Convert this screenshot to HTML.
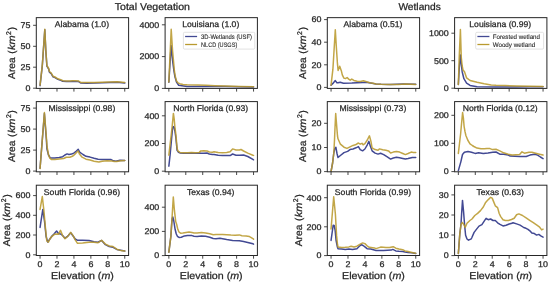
<!DOCTYPE html><html><head><meta charset="utf-8"><style>html,body{margin:0;padding:0;background:#fff;overflow:hidden;}svg{display:block;will-change:transform;}text{text-rendering:geometricPrecision;font-family:"Liberation Sans", sans-serif;fill:#262626;stroke:#262626;stroke-width:0.25px;}</style></head><body>
<svg width="550" height="284" viewBox="0 0 550 284">
<rect width="550" height="284" fill="#fff"/>
<text transform="translate(152.35,9.50) scale(1.070,1)" font-size="9.90" text-anchor="middle">Total Vegetation</text>
<text transform="translate(419.60,9.50) scale(1.035,1)" font-size="9.90" text-anchor="middle">Wetlands</text>
<clipPath id="c00"><rect x="36.30" y="17.65" width="92.30" height="70.75"/></clipPath>
<g clip-path="url(#c00)" fill="none" stroke-width="1.5" stroke-linejoin="round" stroke-linecap="round">
<polyline stroke="#424993" points="40.05,85.70 42.30,65.80 44.80,29.80 45.80,50.60 46.90,66.10 48.70,69.10 49.40,72.10 51.20,73.60 53.00,76.80 55.00,77.60 57.90,79.40 61.40,80.60 62.70,81.30 66.50,81.60 70.00,81.60 72.80,81.30 74.90,81.40 78.60,81.60 80.60,83.00 86.80,83.20 94.40,83.10 102.00,82.80 109.60,82.60 117.20,82.30 124.75,83.10"/>
<polyline stroke="#b99a2e" stroke-opacity="0.88" points="40.05,85.10 42.30,65.20 44.80,29.20 45.80,50.00 46.90,65.50 48.70,68.50 49.40,71.50 51.20,73.00 53.00,76.20 55.00,77.00 57.90,78.80 61.40,80.00 62.70,80.70 66.50,81.00 70.00,81.00 72.80,80.70 74.90,80.80 78.60,81.00 80.60,82.40 86.80,82.60 94.40,82.50 102.00,82.20 109.60,82.00 117.20,81.70 124.75,82.50"/>
</g>
<rect x="36.30" y="17.65" width="92.30" height="70.75" fill="none" stroke="#262626" stroke-width="1.0"/>
<line x1="33.10" y1="88.20" x2="36.30" y2="88.20" stroke="#333" stroke-width="0.9"/>
<text transform="translate(30.50,91.05) scale(1.075,1)" font-size="8.30" text-anchor="end">0</text>
<line x1="33.10" y1="67.20" x2="36.30" y2="67.20" stroke="#333" stroke-width="0.9"/>
<text transform="translate(30.50,70.05) scale(1.075,1)" font-size="8.30" text-anchor="end">25</text>
<line x1="33.10" y1="46.30" x2="36.30" y2="46.30" stroke="#333" stroke-width="0.9"/>
<text transform="translate(30.50,49.15) scale(1.075,1)" font-size="8.30" text-anchor="end">50</text>
<line x1="33.10" y1="25.30" x2="36.30" y2="25.30" stroke="#333" stroke-width="0.9"/>
<text transform="translate(30.50,28.15) scale(1.075,1)" font-size="8.30" text-anchor="end">75</text>
<line x1="40.05" y1="88.40" x2="40.05" y2="91.60" stroke="#333" stroke-width="0.9"/>
<line x1="56.99" y1="88.40" x2="56.99" y2="91.60" stroke="#333" stroke-width="0.9"/>
<line x1="73.93" y1="88.40" x2="73.93" y2="91.60" stroke="#333" stroke-width="0.9"/>
<line x1="90.87" y1="88.40" x2="90.87" y2="91.60" stroke="#333" stroke-width="0.9"/>
<line x1="107.81" y1="88.40" x2="107.81" y2="91.60" stroke="#333" stroke-width="0.9"/>
<line x1="124.75" y1="88.40" x2="124.75" y2="91.60" stroke="#333" stroke-width="0.9"/>
<text transform="translate(81.95,27.25) scale(1.040,1)" font-size="8.30" text-anchor="middle">Alabama (1.0)</text>
<text transform="translate(15.20,78.90) rotate(-90)" font-size="9.90"><tspan x="0" y="0" textLength="21.50" lengthAdjust="spacingAndGlyphs">Area</tspan><tspan x="25.15" y="0">(</tspan><tspan x="29.00" y="0" font-style="italic" textLength="14.60" lengthAdjust="spacingAndGlyphs">km</tspan><tspan x="44.00" y="-4.00" font-size="6.90">2</tspan><tspan x="48.70" y="0">)</tspan></text>
<clipPath id="c10"><rect x="165.10" y="17.65" width="92.30" height="70.75"/></clipPath>
<g clip-path="url(#c10)" fill="none" stroke-width="1.5" stroke-linejoin="round" stroke-linecap="round">
<polyline stroke="#424993" points="168.85,82.20 171.10,45.50 172.50,60.00 173.80,70.00 175.00,77.00 176.50,82.00 178.70,85.30 187.10,86.40 206.00,86.60 225.00,86.50 253.55,86.90"/>
<polyline stroke="#b99a2e" stroke-opacity="0.88" points="168.85,82.00 171.20,29.20 172.50,50.00 173.60,62.00 174.30,70.00 175.20,76.00 176.50,81.00 178.00,82.80 179.70,83.70 183.00,84.40 187.10,84.80 197.70,85.10 206.00,85.30 215.00,85.70 225.00,86.00 240.00,86.50 253.55,86.70"/>
</g>
<rect x="165.10" y="17.65" width="92.30" height="70.75" fill="none" stroke="#262626" stroke-width="1.0"/>
<line x1="161.90" y1="88.40" x2="165.10" y2="88.40" stroke="#333" stroke-width="0.9"/>
<text transform="translate(159.30,91.25) scale(1.075,1)" font-size="8.30" text-anchor="end">0</text>
<line x1="161.90" y1="56.60" x2="165.10" y2="56.60" stroke="#333" stroke-width="0.9"/>
<text transform="translate(159.30,59.45) scale(1.075,1)" font-size="8.30" text-anchor="end">2000</text>
<line x1="161.90" y1="24.80" x2="165.10" y2="24.80" stroke="#333" stroke-width="0.9"/>
<text transform="translate(159.30,27.65) scale(1.075,1)" font-size="8.30" text-anchor="end">4000</text>
<line x1="168.85" y1="88.40" x2="168.85" y2="91.60" stroke="#333" stroke-width="0.9"/>
<line x1="185.79" y1="88.40" x2="185.79" y2="91.60" stroke="#333" stroke-width="0.9"/>
<line x1="202.73" y1="88.40" x2="202.73" y2="91.60" stroke="#333" stroke-width="0.9"/>
<line x1="219.67" y1="88.40" x2="219.67" y2="91.60" stroke="#333" stroke-width="0.9"/>
<line x1="236.61" y1="88.40" x2="236.61" y2="91.60" stroke="#333" stroke-width="0.9"/>
<line x1="253.55" y1="88.40" x2="253.55" y2="91.60" stroke="#333" stroke-width="0.9"/>
<text transform="translate(210.75,27.25) scale(1.040,1)" font-size="8.30" text-anchor="middle">Louisiana (1.0)</text>
<clipPath id="c01"><rect x="36.30" y="101.60" width="92.30" height="70.20"/></clipPath>
<g clip-path="url(#c01)" fill="none" stroke-width="1.5" stroke-linejoin="round" stroke-linecap="round">
<polyline stroke="#424993" points="40.05,168.20 44.40,113.50 46.40,140.00 46.90,148.80 48.50,155.00 50.40,158.10 54.80,158.10 59.20,157.40 62.70,156.70 64.90,155.00 67.10,153.90 68.90,154.50 71.60,154.10 74.20,152.80 76.40,151.00 78.20,149.30 79.90,152.30 83.00,154.50 86.00,156.30 90.00,157.10 94.10,158.30 98.10,159.20 102.20,159.40 107.00,159.40 111.10,159.60 113.50,160.80 115.90,161.20 120.00,160.20 124.75,160.40"/>
<polyline stroke="#b99a2e" stroke-opacity="0.88" points="40.05,168.60 44.40,112.50 46.60,140.40 47.10,147.00 48.50,154.50 49.50,157.60 51.30,159.40 54.80,159.40 59.20,158.90 63.60,158.50 66.30,157.20 69.80,157.20 72.40,156.30 75.10,154.10 76.80,152.30 78.20,151.00 79.50,154.10 82.10,157.20 86.00,159.20 90.00,160.00 94.10,161.20 98.90,162.00 102.20,161.20 107.00,160.80 111.90,161.00 114.30,161.60 116.70,161.60 120.80,160.80 124.75,160.50"/>
</g>
<rect x="36.30" y="101.60" width="92.30" height="70.20" fill="none" stroke="#262626" stroke-width="1.0"/>
<line x1="33.10" y1="171.10" x2="36.30" y2="171.10" stroke="#333" stroke-width="0.9"/>
<text transform="translate(30.50,173.95) scale(1.075,1)" font-size="8.30" text-anchor="end">0</text>
<line x1="33.10" y1="150.10" x2="36.30" y2="150.10" stroke="#333" stroke-width="0.9"/>
<text transform="translate(30.50,152.95) scale(1.075,1)" font-size="8.30" text-anchor="end">25</text>
<line x1="33.10" y1="129.10" x2="36.30" y2="129.10" stroke="#333" stroke-width="0.9"/>
<text transform="translate(30.50,131.95) scale(1.075,1)" font-size="8.30" text-anchor="end">50</text>
<line x1="33.10" y1="108.10" x2="36.30" y2="108.10" stroke="#333" stroke-width="0.9"/>
<text transform="translate(30.50,110.95) scale(1.075,1)" font-size="8.30" text-anchor="end">75</text>
<line x1="40.05" y1="171.80" x2="40.05" y2="175.00" stroke="#333" stroke-width="0.9"/>
<line x1="56.99" y1="171.80" x2="56.99" y2="175.00" stroke="#333" stroke-width="0.9"/>
<line x1="73.93" y1="171.80" x2="73.93" y2="175.00" stroke="#333" stroke-width="0.9"/>
<line x1="90.87" y1="171.80" x2="90.87" y2="175.00" stroke="#333" stroke-width="0.9"/>
<line x1="107.81" y1="171.80" x2="107.81" y2="175.00" stroke="#333" stroke-width="0.9"/>
<line x1="124.75" y1="171.80" x2="124.75" y2="175.00" stroke="#333" stroke-width="0.9"/>
<text transform="translate(81.95,111.20) scale(1.040,1)" font-size="8.30" text-anchor="middle">Mississippi (0.98)</text>
<text transform="translate(15.20,162.10) rotate(-90)" font-size="9.90"><tspan x="0" y="0" textLength="21.50" lengthAdjust="spacingAndGlyphs">Area</tspan><tspan x="25.15" y="0">(</tspan><tspan x="29.00" y="0" font-style="italic" textLength="14.60" lengthAdjust="spacingAndGlyphs">km</tspan><tspan x="44.00" y="-4.00" font-size="6.90">2</tspan><tspan x="48.70" y="0">)</tspan></text>
<clipPath id="c11"><rect x="165.10" y="101.60" width="92.30" height="70.20"/></clipPath>
<g clip-path="url(#c11)" fill="none" stroke-width="1.5" stroke-linejoin="round" stroke-linecap="round">
<polyline stroke="#424993" points="168.85,166.20 170.10,154.80 171.20,143.00 172.30,131.00 172.80,127.50 173.40,126.60 174.20,127.50 174.90,131.00 175.90,138.00 177.10,150.40 178.50,152.30 179.90,152.90 183.80,153.30 187.60,153.30 191.50,153.10 195.40,153.30 199.30,153.00 200.80,153.20 203.90,153.30 207.00,153.00 209.30,154.00 212.40,154.60 214.00,154.40 218.20,155.20 222.50,155.60 226.70,155.60 230.10,155.60 232.60,154.00 236.00,155.20 239.40,155.20 243.60,155.00 247.80,156.50 252.90,159.40 253.55,159.80"/>
<polyline stroke="#b99a2e" stroke-opacity="0.88" points="168.85,155.20 170.00,145.00 171.20,135.00 172.30,125.00 173.40,113.40 174.20,119.00 174.90,127.00 175.90,134.60 177.10,148.00 177.80,150.90 179.90,152.40 183.80,152.80 187.60,152.80 191.50,152.60 195.40,152.80 199.30,152.40 200.80,150.90 203.90,150.70 207.00,150.90 209.30,152.00 212.40,152.20 214.00,151.80 218.20,152.50 222.50,152.80 226.70,152.50 230.10,151.80 232.60,148.90 236.00,150.00 239.40,150.00 241.00,149.50 243.60,151.00 247.80,153.10 252.90,155.20 253.55,155.40"/>
</g>
<rect x="165.10" y="101.60" width="92.30" height="70.20" fill="none" stroke="#262626" stroke-width="1.0"/>
<line x1="161.90" y1="171.20" x2="165.10" y2="171.20" stroke="#333" stroke-width="0.9"/>
<text transform="translate(159.30,174.05) scale(1.075,1)" font-size="8.30" text-anchor="end">0</text>
<line x1="161.90" y1="143.50" x2="165.10" y2="143.50" stroke="#333" stroke-width="0.9"/>
<text transform="translate(159.30,146.35) scale(1.075,1)" font-size="8.30" text-anchor="end">200</text>
<line x1="161.90" y1="115.80" x2="165.10" y2="115.80" stroke="#333" stroke-width="0.9"/>
<text transform="translate(159.30,118.65) scale(1.075,1)" font-size="8.30" text-anchor="end">400</text>
<line x1="168.85" y1="171.80" x2="168.85" y2="175.00" stroke="#333" stroke-width="0.9"/>
<line x1="185.79" y1="171.80" x2="185.79" y2="175.00" stroke="#333" stroke-width="0.9"/>
<line x1="202.73" y1="171.80" x2="202.73" y2="175.00" stroke="#333" stroke-width="0.9"/>
<line x1="219.67" y1="171.80" x2="219.67" y2="175.00" stroke="#333" stroke-width="0.9"/>
<line x1="236.61" y1="171.80" x2="236.61" y2="175.00" stroke="#333" stroke-width="0.9"/>
<line x1="253.55" y1="171.80" x2="253.55" y2="175.00" stroke="#333" stroke-width="0.9"/>
<text transform="translate(210.75,111.20) scale(1.040,1)" font-size="8.30" text-anchor="middle">North Florida (0.93)</text>
<clipPath id="c02"><rect x="36.30" y="185.20" width="92.30" height="70.30"/></clipPath>
<g clip-path="url(#c02)" fill="none" stroke-width="1.5" stroke-linejoin="round" stroke-linecap="round">
<polyline stroke="#424993" points="40.05,227.40 42.80,209.40 44.60,221.80 46.10,236.50 47.70,242.10 50.60,238.00 52.00,236.00 54.00,234.00 56.60,231.00 58.50,233.50 60.50,234.00 62.60,235.50 65.00,238.20 67.50,236.40 70.70,232.70 73.10,236.00 75.20,239.00 77.50,240.30 82.60,240.30 89.00,240.50 94.00,241.80 97.80,242.20 101.60,240.50 105.40,244.70 109.20,246.60 113.00,247.30 116.80,249.40 120.60,250.20 124.75,251.10"/>
<polyline stroke="#b99a2e" stroke-opacity="0.88" points="40.05,209.40 42.30,196.60 43.90,210.50 45.50,228.60 46.80,241.00 48.40,242.10 50.00,238.70 52.00,236.30 54.80,234.20 57.50,234.00 58.50,234.30 60.50,230.30 62.60,235.60 65.00,238.70 67.50,236.60 70.70,232.40 73.10,235.60 75.20,239.80 77.50,243.30 82.60,243.10 89.00,242.20 94.00,242.20 97.80,242.80 101.60,240.30 105.40,244.10 109.20,246.00 113.00,246.60 116.80,249.20 120.60,250.40 124.75,251.10"/>
</g>
<rect x="36.30" y="185.20" width="92.30" height="70.30" fill="none" stroke="#262626" stroke-width="1.0"/>
<line x1="33.10" y1="254.80" x2="36.30" y2="254.80" stroke="#333" stroke-width="0.9"/>
<text transform="translate(30.50,257.65) scale(1.075,1)" font-size="8.30" text-anchor="end">0</text>
<line x1="33.10" y1="235.00" x2="36.30" y2="235.00" stroke="#333" stroke-width="0.9"/>
<text transform="translate(30.50,237.85) scale(1.075,1)" font-size="8.30" text-anchor="end">200</text>
<line x1="33.10" y1="215.30" x2="36.30" y2="215.30" stroke="#333" stroke-width="0.9"/>
<text transform="translate(30.50,218.15) scale(1.075,1)" font-size="8.30" text-anchor="end">400</text>
<line x1="33.10" y1="195.60" x2="36.30" y2="195.60" stroke="#333" stroke-width="0.9"/>
<text transform="translate(30.50,198.45) scale(1.075,1)" font-size="8.30" text-anchor="end">600</text>
<line x1="40.05" y1="255.50" x2="40.05" y2="258.70" stroke="#333" stroke-width="0.9"/>
<text transform="translate(40.05,267.30) scale(1.075,1)" font-size="8.30" text-anchor="middle">0</text>
<line x1="56.99" y1="255.50" x2="56.99" y2="258.70" stroke="#333" stroke-width="0.9"/>
<text transform="translate(56.99,267.30) scale(1.075,1)" font-size="8.30" text-anchor="middle">2</text>
<line x1="73.93" y1="255.50" x2="73.93" y2="258.70" stroke="#333" stroke-width="0.9"/>
<text transform="translate(73.93,267.30) scale(1.075,1)" font-size="8.30" text-anchor="middle">4</text>
<line x1="90.87" y1="255.50" x2="90.87" y2="258.70" stroke="#333" stroke-width="0.9"/>
<text transform="translate(90.87,267.30) scale(1.075,1)" font-size="8.30" text-anchor="middle">6</text>
<line x1="107.81" y1="255.50" x2="107.81" y2="258.70" stroke="#333" stroke-width="0.9"/>
<text transform="translate(107.81,267.30) scale(1.075,1)" font-size="8.30" text-anchor="middle">8</text>
<line x1="124.75" y1="255.50" x2="124.75" y2="258.70" stroke="#333" stroke-width="0.9"/>
<text transform="translate(124.75,267.30) scale(1.075,1)" font-size="8.30" text-anchor="middle">10</text>
<text transform="translate(81.95,194.80) scale(1.040,1)" font-size="8.30" text-anchor="middle">South Florida (0.96)</text>
<text transform="translate(10.30,246.20) rotate(-90)" font-size="9.90"><tspan x="0" y="0" textLength="21.50" lengthAdjust="spacingAndGlyphs">Area</tspan><tspan x="25.15" y="0">(</tspan><tspan x="29.00" y="0" font-style="italic" textLength="14.60" lengthAdjust="spacingAndGlyphs">km</tspan><tspan x="44.00" y="-4.00" font-size="6.90">2</tspan><tspan x="48.70" y="0">)</tspan></text>
<text transform="translate(82.45,279.20) scale(1.080,1)" font-size="9.90" text-anchor="middle">Elevation (<tspan font-style="italic">m</tspan>)</text>
<clipPath id="c12"><rect x="165.10" y="185.20" width="92.30" height="70.30"/></clipPath>
<g clip-path="url(#c12)" fill="none" stroke-width="1.5" stroke-linejoin="round" stroke-linecap="round">
<polyline stroke="#424993" points="168.85,252.20 170.90,236.10 171.70,223.50 172.20,218.50 172.80,217.00 173.80,221.00 175.10,229.30 176.30,234.00 177.40,236.30 179.00,237.40 181.30,237.20 184.40,235.90 187.50,235.50 192.00,235.60 194.00,236.20 197.10,236.40 201.40,236.00 205.60,236.20 209.80,237.20 213.20,238.50 216.00,238.80 219.90,238.30 226.70,239.50 232.60,240.40 239.40,240.80 243.60,241.60 247.80,242.50 252.90,243.80 253.55,244.10"/>
<polyline stroke="#b99a2e" stroke-opacity="0.88" points="168.85,252.20 170.90,236.10 171.70,223.20 172.50,210.20 173.30,197.00 174.40,210.20 175.70,221.60 176.70,224.50 177.80,229.30 179.00,232.00 180.50,233.20 182.90,233.00 186.00,232.40 189.00,232.00 192.00,232.60 194.00,233.00 197.10,233.00 201.40,232.60 205.60,233.00 209.80,233.80 213.20,234.70 216.00,234.40 222.50,234.50 230.90,235.10 235.10,235.30 239.40,234.90 241.90,235.70 246.10,236.10 249.50,236.60 252.90,238.70 253.55,239.20"/>
</g>
<rect x="165.10" y="185.20" width="92.30" height="70.30" fill="none" stroke="#262626" stroke-width="1.0"/>
<line x1="161.90" y1="255.60" x2="165.10" y2="255.60" stroke="#333" stroke-width="0.9"/>
<text transform="translate(159.30,258.45) scale(1.075,1)" font-size="8.30" text-anchor="end">0</text>
<line x1="161.90" y1="231.40" x2="165.10" y2="231.40" stroke="#333" stroke-width="0.9"/>
<text transform="translate(159.30,234.25) scale(1.075,1)" font-size="8.30" text-anchor="end">200</text>
<line x1="161.90" y1="207.20" x2="165.10" y2="207.20" stroke="#333" stroke-width="0.9"/>
<text transform="translate(159.30,210.05) scale(1.075,1)" font-size="8.30" text-anchor="end">400</text>
<line x1="168.85" y1="255.50" x2="168.85" y2="258.70" stroke="#333" stroke-width="0.9"/>
<text transform="translate(168.85,267.30) scale(1.075,1)" font-size="8.30" text-anchor="middle">0</text>
<line x1="185.79" y1="255.50" x2="185.79" y2="258.70" stroke="#333" stroke-width="0.9"/>
<text transform="translate(185.79,267.30) scale(1.075,1)" font-size="8.30" text-anchor="middle">2</text>
<line x1="202.73" y1="255.50" x2="202.73" y2="258.70" stroke="#333" stroke-width="0.9"/>
<text transform="translate(202.73,267.30) scale(1.075,1)" font-size="8.30" text-anchor="middle">4</text>
<line x1="219.67" y1="255.50" x2="219.67" y2="258.70" stroke="#333" stroke-width="0.9"/>
<text transform="translate(219.67,267.30) scale(1.075,1)" font-size="8.30" text-anchor="middle">6</text>
<line x1="236.61" y1="255.50" x2="236.61" y2="258.70" stroke="#333" stroke-width="0.9"/>
<text transform="translate(236.61,267.30) scale(1.075,1)" font-size="8.30" text-anchor="middle">8</text>
<line x1="253.55" y1="255.50" x2="253.55" y2="258.70" stroke="#333" stroke-width="0.9"/>
<text transform="translate(253.55,267.30) scale(1.075,1)" font-size="8.30" text-anchor="middle">10</text>
<text transform="translate(210.75,194.80) scale(1.040,1)" font-size="8.30" text-anchor="middle">Texas (0.94)</text>
<text transform="translate(211.25,279.20) scale(1.080,1)" font-size="9.90" text-anchor="middle">Elevation (<tspan font-style="italic">m</tspan>)</text>
<clipPath id="c20"><rect x="327.30" y="17.65" width="92.30" height="70.75"/></clipPath>
<g clip-path="url(#c20)" fill="none" stroke-width="1.5" stroke-linejoin="round" stroke-linecap="round">
<polyline stroke="#424993" points="331.05,85.20 332.90,83.40 335.30,80.60 336.90,82.80 338.10,82.80 340.20,82.30 343.40,83.30 351.80,83.10 362.40,82.50 367.70,82.50 372.00,83.20 376.00,83.90 381.00,84.30 390.50,84.50 403.10,84.00 415.75,84.30"/>
<polyline stroke="#b99a2e" stroke-opacity="0.88" points="331.05,85.20 332.90,69.20 335.30,29.80 336.40,48.00 337.40,63.00 338.10,70.50 339.70,66.20 341.30,70.70 342.30,74.90 343.90,78.10 345.50,78.60 347.10,77.50 348.70,79.10 350.20,80.20 351.80,79.10 353.90,80.40 357.10,81.20 360.30,81.40 363.40,80.70 366.60,81.70 369.80,82.80 372.90,83.30 376.00,83.90 381.00,84.30 387.90,84.50 398.10,84.50 405.70,84.00 415.75,84.50"/>
</g>
<rect x="327.30" y="17.65" width="92.30" height="70.75" fill="none" stroke="#262626" stroke-width="1.0"/>
<line x1="324.10" y1="87.40" x2="327.30" y2="87.40" stroke="#333" stroke-width="0.9"/>
<text transform="translate(321.50,90.25) scale(1.075,1)" font-size="8.30" text-anchor="end">0</text>
<line x1="324.10" y1="64.80" x2="327.30" y2="64.80" stroke="#333" stroke-width="0.9"/>
<text transform="translate(321.50,67.65) scale(1.075,1)" font-size="8.30" text-anchor="end">20</text>
<line x1="324.10" y1="42.20" x2="327.30" y2="42.20" stroke="#333" stroke-width="0.9"/>
<text transform="translate(321.50,45.05) scale(1.075,1)" font-size="8.30" text-anchor="end">40</text>
<line x1="324.10" y1="19.60" x2="327.30" y2="19.60" stroke="#333" stroke-width="0.9"/>
<text transform="translate(321.50,22.45) scale(1.075,1)" font-size="8.30" text-anchor="end">60</text>
<line x1="331.05" y1="88.40" x2="331.05" y2="91.60" stroke="#333" stroke-width="0.9"/>
<line x1="347.99" y1="88.40" x2="347.99" y2="91.60" stroke="#333" stroke-width="0.9"/>
<line x1="364.93" y1="88.40" x2="364.93" y2="91.60" stroke="#333" stroke-width="0.9"/>
<line x1="381.87" y1="88.40" x2="381.87" y2="91.60" stroke="#333" stroke-width="0.9"/>
<line x1="398.81" y1="88.40" x2="398.81" y2="91.60" stroke="#333" stroke-width="0.9"/>
<line x1="415.75" y1="88.40" x2="415.75" y2="91.60" stroke="#333" stroke-width="0.9"/>
<text transform="translate(372.95,27.25) scale(1.040,1)" font-size="8.30" text-anchor="middle">Alabama (0.51)</text>
<text transform="translate(306.10,78.90) rotate(-90)" font-size="9.90"><tspan x="0" y="0" textLength="21.50" lengthAdjust="spacingAndGlyphs">Area</tspan><tspan x="25.15" y="0">(</tspan><tspan x="29.00" y="0" font-style="italic" textLength="14.60" lengthAdjust="spacingAndGlyphs">km</tspan><tspan x="44.00" y="-4.00" font-size="6.90">2</tspan><tspan x="48.70" y="0">)</tspan></text>
<clipPath id="c30"><rect x="454.60" y="17.65" width="92.30" height="70.75"/></clipPath>
<g clip-path="url(#c30)" fill="none" stroke-width="1.5" stroke-linejoin="round" stroke-linecap="round">
<polyline stroke="#424993" points="458.35,84.50 459.20,69.20 460.40,54.90 461.30,64.00 462.20,71.70 463.90,78.70 466.60,83.10 470.10,85.40 477.10,86.70 496.00,87.10 516.00,87.00 530.00,86.80 543.05,86.70"/>
<polyline stroke="#b99a2e" stroke-opacity="0.88" points="458.35,84.50 459.20,57.40 460.40,29.60 461.30,57.60 462.20,66.00 463.00,69.90 464.50,71.70 465.70,75.20 466.60,77.90 470.10,80.50 477.10,82.30 484.20,83.70 491.20,84.90 496.00,85.30 505.00,85.60 516.40,85.90 530.00,86.30 543.05,86.40"/>
</g>
<rect x="454.60" y="17.65" width="92.30" height="70.75" fill="none" stroke="#262626" stroke-width="1.0"/>
<line x1="451.40" y1="88.20" x2="454.60" y2="88.20" stroke="#333" stroke-width="0.9"/>
<text transform="translate(448.80,91.05) scale(1.075,1)" font-size="8.30" text-anchor="end">0</text>
<line x1="451.40" y1="60.70" x2="454.60" y2="60.70" stroke="#333" stroke-width="0.9"/>
<text transform="translate(448.80,63.55) scale(1.075,1)" font-size="8.30" text-anchor="end">500</text>
<line x1="451.40" y1="33.20" x2="454.60" y2="33.20" stroke="#333" stroke-width="0.9"/>
<text transform="translate(448.80,36.05) scale(1.075,1)" font-size="8.30" text-anchor="end">1000</text>
<line x1="458.35" y1="88.40" x2="458.35" y2="91.60" stroke="#333" stroke-width="0.9"/>
<line x1="475.29" y1="88.40" x2="475.29" y2="91.60" stroke="#333" stroke-width="0.9"/>
<line x1="492.23" y1="88.40" x2="492.23" y2="91.60" stroke="#333" stroke-width="0.9"/>
<line x1="509.17" y1="88.40" x2="509.17" y2="91.60" stroke="#333" stroke-width="0.9"/>
<line x1="526.11" y1="88.40" x2="526.11" y2="91.60" stroke="#333" stroke-width="0.9"/>
<line x1="543.05" y1="88.40" x2="543.05" y2="91.60" stroke="#333" stroke-width="0.9"/>
<text transform="translate(500.25,27.25) scale(1.040,1)" font-size="8.30" text-anchor="middle">Louisiana (0.99)</text>
<clipPath id="c21"><rect x="327.30" y="101.60" width="92.30" height="70.20"/></clipPath>
<g clip-path="url(#c21)" fill="none" stroke-width="1.5" stroke-linejoin="round" stroke-linecap="round">
<polyline stroke="#424993" points="331.05,171.50 332.60,163.00 333.80,153.00 334.80,148.50 335.90,147.40 337.00,153.50 338.00,157.50 340.40,155.50 344.00,152.60 347.60,151.40 350.00,149.60 353.00,149.00 356.00,147.80 358.40,146.60 360.20,149.60 362.60,150.80 364.90,149.00 367.30,144.80 368.90,141.40 370.30,146.00 372.10,150.80 375.10,153.10 378.00,154.10 380.60,153.20 383.70,154.60 386.90,156.70 390.60,159.10 393.30,158.00 396.40,157.20 399.60,157.70 402.80,158.50 405.40,159.10 408.10,158.50 412.30,157.40 415.75,157.40"/>
<polyline stroke="#b99a2e" stroke-opacity="0.88" points="331.05,171.50 332.60,163.00 333.80,153.00 334.50,140.00 335.00,128.00 335.70,113.60 336.90,128.60 337.50,136.00 338.00,138.80 340.40,144.20 344.00,147.20 347.00,148.40 350.00,146.90 353.00,145.40 355.40,144.80 358.40,143.00 360.20,144.20 362.00,143.30 363.10,144.80 364.90,143.60 367.30,140.00 369.40,135.80 370.90,141.20 372.10,147.80 375.10,149.60 378.00,150.20 379.50,148.90 382.70,149.80 385.90,150.30 388.50,150.90 390.60,153.00 393.30,152.10 396.40,151.40 399.60,152.10 402.80,153.50 405.40,154.60 408.10,153.50 411.20,152.10 413.30,152.40 415.75,152.40"/>
</g>
<rect x="327.30" y="101.60" width="92.30" height="70.20" fill="none" stroke="#262626" stroke-width="1.0"/>
<line x1="324.10" y1="171.60" x2="327.30" y2="171.60" stroke="#333" stroke-width="0.9"/>
<text transform="translate(321.50,174.45) scale(1.075,1)" font-size="8.30" text-anchor="end">0</text>
<line x1="324.10" y1="147.50" x2="327.30" y2="147.50" stroke="#333" stroke-width="0.9"/>
<text transform="translate(321.50,150.35) scale(1.075,1)" font-size="8.30" text-anchor="end">10</text>
<line x1="324.10" y1="123.30" x2="327.30" y2="123.30" stroke="#333" stroke-width="0.9"/>
<text transform="translate(321.50,126.15) scale(1.075,1)" font-size="8.30" text-anchor="end">20</text>
<line x1="331.05" y1="171.80" x2="331.05" y2="175.00" stroke="#333" stroke-width="0.9"/>
<line x1="347.99" y1="171.80" x2="347.99" y2="175.00" stroke="#333" stroke-width="0.9"/>
<line x1="364.93" y1="171.80" x2="364.93" y2="175.00" stroke="#333" stroke-width="0.9"/>
<line x1="381.87" y1="171.80" x2="381.87" y2="175.00" stroke="#333" stroke-width="0.9"/>
<line x1="398.81" y1="171.80" x2="398.81" y2="175.00" stroke="#333" stroke-width="0.9"/>
<line x1="415.75" y1="171.80" x2="415.75" y2="175.00" stroke="#333" stroke-width="0.9"/>
<text transform="translate(372.95,111.20) scale(1.040,1)" font-size="8.30" text-anchor="middle">Mississippi (0.73)</text>
<text transform="translate(306.10,162.10) rotate(-90)" font-size="9.90"><tspan x="0" y="0" textLength="21.50" lengthAdjust="spacingAndGlyphs">Area</tspan><tspan x="25.15" y="0">(</tspan><tspan x="29.00" y="0" font-style="italic" textLength="14.60" lengthAdjust="spacingAndGlyphs">km</tspan><tspan x="44.00" y="-4.00" font-size="6.90">2</tspan><tspan x="48.70" y="0">)</tspan></text>
<clipPath id="c31"><rect x="454.60" y="101.60" width="92.30" height="70.20"/></clipPath>
<g clip-path="url(#c31)" fill="none" stroke-width="1.5" stroke-linejoin="round" stroke-linecap="round">
<polyline stroke="#424993" points="458.35,170.60 460.90,161.60 462.50,154.50 464.40,152.20 468.00,151.50 471.50,152.20 475.10,153.40 478.60,152.70 483.30,153.40 488.00,152.90 492.70,152.20 496.00,152.00 499.80,154.20 503.60,154.20 508.30,155.10 510.20,156.10 519.60,156.50 526.20,156.50 530.00,155.10 534.80,154.20 537.60,155.10 540.40,157.00 543.05,158.60"/>
<polyline stroke="#b99a2e" stroke-opacity="0.88" points="458.35,153.40 459.50,143.50 460.60,134.00 461.60,123.00 462.60,112.60 463.40,118.00 464.10,126.30 465.00,131.50 465.90,135.50 467.70,140.00 470.00,143.90 472.30,145.50 473.90,146.50 477.00,148.10 481.00,148.80 484.10,148.80 487.00,148.60 490.00,148.60 492.50,149.60 496.00,149.30 499.80,150.90 503.60,152.80 508.30,154.20 512.10,155.10 519.60,154.60 522.00,151.80 524.40,153.20 529.10,152.30 531.90,152.30 535.70,153.20 539.50,154.20 543.05,155.10"/>
</g>
<rect x="454.60" y="101.60" width="92.30" height="70.20" fill="none" stroke="#262626" stroke-width="1.0"/>
<line x1="451.40" y1="171.60" x2="454.60" y2="171.60" stroke="#333" stroke-width="0.9"/>
<text transform="translate(448.80,174.45) scale(1.075,1)" font-size="8.30" text-anchor="end">0</text>
<line x1="451.40" y1="143.30" x2="454.60" y2="143.30" stroke="#333" stroke-width="0.9"/>
<text transform="translate(448.80,146.15) scale(1.075,1)" font-size="8.30" text-anchor="end">100</text>
<line x1="451.40" y1="115.30" x2="454.60" y2="115.30" stroke="#333" stroke-width="0.9"/>
<text transform="translate(448.80,118.15) scale(1.075,1)" font-size="8.30" text-anchor="end">200</text>
<line x1="458.35" y1="171.80" x2="458.35" y2="175.00" stroke="#333" stroke-width="0.9"/>
<line x1="475.29" y1="171.80" x2="475.29" y2="175.00" stroke="#333" stroke-width="0.9"/>
<line x1="492.23" y1="171.80" x2="492.23" y2="175.00" stroke="#333" stroke-width="0.9"/>
<line x1="509.17" y1="171.80" x2="509.17" y2="175.00" stroke="#333" stroke-width="0.9"/>
<line x1="526.11" y1="171.80" x2="526.11" y2="175.00" stroke="#333" stroke-width="0.9"/>
<line x1="543.05" y1="171.80" x2="543.05" y2="175.00" stroke="#333" stroke-width="0.9"/>
<text transform="translate(500.25,111.20) scale(1.040,1)" font-size="8.30" text-anchor="middle">North Florida (0.12)</text>
<clipPath id="c22"><rect x="327.30" y="185.20" width="92.30" height="70.30"/></clipPath>
<g clip-path="url(#c22)" fill="none" stroke-width="1.5" stroke-linejoin="round" stroke-linecap="round">
<polyline stroke="#424993" points="331.05,240.40 332.30,231.50 333.20,225.20 334.20,225.40 335.10,230.00 336.10,240.70 337.40,247.00 338.00,248.70 341.60,249.10 345.30,249.50 348.90,249.10 352.50,249.50 356.90,248.70 359.10,246.50 361.30,244.70 363.10,245.50 364.90,246.90 367.10,248.70 370.70,249.10 376.00,250.40 383.60,250.40 391.30,250.10 392.80,249.40 395.80,250.90 398.90,251.30 402.70,251.60 405.00,252.00 408.10,252.40 411.90,252.80 415.75,253.40"/>
<polyline stroke="#b99a2e" stroke-opacity="0.88" points="331.05,229.00 333.70,196.80 335.40,214.30 336.60,235.90 337.50,244.50 338.00,246.90 341.60,247.60 345.30,247.30 348.90,246.90 351.10,246.20 354.00,246.90 356.90,246.20 359.80,244.40 362.70,242.90 364.90,243.60 367.10,245.80 369.30,247.30 374.40,247.90 376.00,248.60 380.60,247.10 385.90,247.50 389.70,247.50 393.20,246.70 395.80,248.20 398.90,249.00 402.70,249.70 405.00,250.90 408.10,251.60 411.90,252.40 415.75,253.20"/>
</g>
<rect x="327.30" y="185.20" width="92.30" height="70.30" fill="none" stroke="#262626" stroke-width="1.0"/>
<line x1="324.10" y1="255.60" x2="327.30" y2="255.60" stroke="#333" stroke-width="0.9"/>
<text transform="translate(321.50,258.45) scale(1.075,1)" font-size="8.30" text-anchor="end">0</text>
<line x1="324.10" y1="226.80" x2="327.30" y2="226.80" stroke="#333" stroke-width="0.9"/>
<text transform="translate(321.50,229.65) scale(1.075,1)" font-size="8.30" text-anchor="end">200</text>
<line x1="324.10" y1="197.70" x2="327.30" y2="197.70" stroke="#333" stroke-width="0.9"/>
<text transform="translate(321.50,200.55) scale(1.075,1)" font-size="8.30" text-anchor="end">400</text>
<line x1="331.05" y1="255.50" x2="331.05" y2="258.70" stroke="#333" stroke-width="0.9"/>
<text transform="translate(331.05,267.30) scale(1.075,1)" font-size="8.30" text-anchor="middle">0</text>
<line x1="347.99" y1="255.50" x2="347.99" y2="258.70" stroke="#333" stroke-width="0.9"/>
<text transform="translate(347.99,267.30) scale(1.075,1)" font-size="8.30" text-anchor="middle">2</text>
<line x1="364.93" y1="255.50" x2="364.93" y2="258.70" stroke="#333" stroke-width="0.9"/>
<text transform="translate(364.93,267.30) scale(1.075,1)" font-size="8.30" text-anchor="middle">4</text>
<line x1="381.87" y1="255.50" x2="381.87" y2="258.70" stroke="#333" stroke-width="0.9"/>
<text transform="translate(381.87,267.30) scale(1.075,1)" font-size="8.30" text-anchor="middle">6</text>
<line x1="398.81" y1="255.50" x2="398.81" y2="258.70" stroke="#333" stroke-width="0.9"/>
<text transform="translate(398.81,267.30) scale(1.075,1)" font-size="8.30" text-anchor="middle">8</text>
<line x1="415.75" y1="255.50" x2="415.75" y2="258.70" stroke="#333" stroke-width="0.9"/>
<text transform="translate(415.75,267.30) scale(1.075,1)" font-size="8.30" text-anchor="middle">10</text>
<text transform="translate(372.95,194.80) scale(1.040,1)" font-size="8.30" text-anchor="middle">South Florida (0.99)</text>
<text transform="translate(302.00,246.20) rotate(-90)" font-size="9.90"><tspan x="0" y="0" textLength="21.50" lengthAdjust="spacingAndGlyphs">Area</tspan><tspan x="25.15" y="0">(</tspan><tspan x="29.00" y="0" font-style="italic" textLength="14.60" lengthAdjust="spacingAndGlyphs">km</tspan><tspan x="44.00" y="-4.00" font-size="6.90">2</tspan><tspan x="48.70" y="0">)</tspan></text>
<text transform="translate(373.45,279.20) scale(1.080,1)" font-size="9.90" text-anchor="middle">Elevation (<tspan font-style="italic">m</tspan>)</text>
<clipPath id="c32"><rect x="454.60" y="185.20" width="92.30" height="70.30"/></clipPath>
<g clip-path="url(#c32)" fill="none" stroke-width="1.5" stroke-linejoin="round" stroke-linecap="round">
<polyline stroke="#424993" points="458.35,253.50 459.80,234.00 461.00,224.00 461.60,214.00 462.50,200.40 463.60,212.00 464.60,225.00 465.60,235.30 467.00,239.00 468.50,240.20 471.30,238.80 472.00,237.30 474.10,232.40 476.20,229.60 479.00,226.10 481.90,224.60 484.70,220.40 486.10,218.30 488.20,219.70 490.60,219.00 493.00,220.50 495.30,220.50 497.60,222.80 500.00,224.40 503.00,225.90 506.10,225.20 509.20,224.00 512.00,223.30 513.00,222.70 516.60,223.90 520.10,225.10 523.70,227.50 526.00,228.30 528.00,229.40 530.50,231.40 531.90,233.10 534.40,233.60 536.60,235.10 538.80,234.40 540.80,235.90 543.05,237.10"/>
<polyline stroke="#b99a2e" stroke-opacity="0.88" points="458.35,253.50 459.80,234.00 461.00,224.50 462.30,222.50 463.50,224.00 465.20,227.50 467.00,223.30 469.90,220.50 472.00,219.00 474.80,215.50 477.60,213.40 480.50,210.60 483.30,207.00 485.40,202.80 486.50,201.50 488.30,199.60 490.60,197.30 492.20,198.10 493.70,201.90 495.30,205.80 497.60,207.60 499.20,213.50 500.70,216.60 503.00,219.70 505.30,220.50 508.40,220.50 511.50,219.50 514.20,218.20 516.60,214.80 518.90,213.90 522.50,215.50 526.10,217.90 529.70,220.30 533.30,222.70 536.90,225.10 539.30,226.80 541.70,229.90 543.05,229.20"/>
</g>
<rect x="454.60" y="185.20" width="92.30" height="70.30" fill="none" stroke="#262626" stroke-width="1.0"/>
<line x1="451.40" y1="255.60" x2="454.60" y2="255.60" stroke="#333" stroke-width="0.9"/>
<text transform="translate(448.80,258.45) scale(1.075,1)" font-size="8.30" text-anchor="end">0</text>
<line x1="451.40" y1="235.00" x2="454.60" y2="235.00" stroke="#333" stroke-width="0.9"/>
<text transform="translate(448.80,237.85) scale(1.075,1)" font-size="8.30" text-anchor="end">10</text>
<line x1="451.40" y1="215.00" x2="454.60" y2="215.00" stroke="#333" stroke-width="0.9"/>
<text transform="translate(448.80,217.85) scale(1.075,1)" font-size="8.30" text-anchor="end">20</text>
<line x1="451.40" y1="194.90" x2="454.60" y2="194.90" stroke="#333" stroke-width="0.9"/>
<text transform="translate(448.80,197.75) scale(1.075,1)" font-size="8.30" text-anchor="end">30</text>
<line x1="458.35" y1="255.50" x2="458.35" y2="258.70" stroke="#333" stroke-width="0.9"/>
<text transform="translate(458.35,267.30) scale(1.075,1)" font-size="8.30" text-anchor="middle">0</text>
<line x1="475.29" y1="255.50" x2="475.29" y2="258.70" stroke="#333" stroke-width="0.9"/>
<text transform="translate(475.29,267.30) scale(1.075,1)" font-size="8.30" text-anchor="middle">2</text>
<line x1="492.23" y1="255.50" x2="492.23" y2="258.70" stroke="#333" stroke-width="0.9"/>
<text transform="translate(492.23,267.30) scale(1.075,1)" font-size="8.30" text-anchor="middle">4</text>
<line x1="509.17" y1="255.50" x2="509.17" y2="258.70" stroke="#333" stroke-width="0.9"/>
<text transform="translate(509.17,267.30) scale(1.075,1)" font-size="8.30" text-anchor="middle">6</text>
<line x1="526.11" y1="255.50" x2="526.11" y2="258.70" stroke="#333" stroke-width="0.9"/>
<text transform="translate(526.11,267.30) scale(1.075,1)" font-size="8.30" text-anchor="middle">8</text>
<line x1="543.05" y1="255.50" x2="543.05" y2="258.70" stroke="#333" stroke-width="0.9"/>
<text transform="translate(543.05,267.30) scale(1.075,1)" font-size="8.30" text-anchor="middle">10</text>
<text transform="translate(500.25,194.80) scale(1.040,1)" font-size="8.30" text-anchor="middle">Texas (0.63)</text>
<text transform="translate(500.75,279.20) scale(1.080,1)" font-size="9.90" text-anchor="middle">Elevation (<tspan font-style="italic">m</tspan>)</text>
<rect x="183.40" y="32.30" width="71.40" height="16.80" rx="1.2" fill="#fff" fill-opacity="0.8" stroke="#d6d6d6" stroke-width="0.7"/>
<line x1="185.10" y1="36.50" x2="197.10" y2="36.50" stroke="#424993" stroke-width="1.3"/>
<text x="201.00" y="38.80" font-size="6.40" textLength="51.00" lengthAdjust="spacingAndGlyphs" style="stroke-width:0.1px">3D-Wetlands (USF)</text>
<line x1="185.10" y1="44.50" x2="197.10" y2="44.50" stroke="#b99a2e" stroke-width="1.3"/>
<text x="201.00" y="46.80" font-size="6.40" textLength="36.30" lengthAdjust="spacingAndGlyphs" style="stroke-width:0.1px">NLCD (USGS)</text>
<rect x="475.70" y="32.30" width="67.90" height="16.80" rx="1.2" fill="#fff" fill-opacity="0.8" stroke="#d6d6d6" stroke-width="0.7"/>
<line x1="477.40" y1="36.50" x2="489.40" y2="36.50" stroke="#424993" stroke-width="1.3"/>
<text x="492.70" y="38.80" font-size="6.40" textLength="47.30" lengthAdjust="spacingAndGlyphs" style="stroke-width:0.1px">Forested wetland</text>
<line x1="477.40" y1="44.50" x2="489.40" y2="44.50" stroke="#b99a2e" stroke-width="1.3"/>
<text x="492.70" y="46.80" font-size="6.40" textLength="42.40" lengthAdjust="spacingAndGlyphs" style="stroke-width:0.1px">Woody wetland</text>
</svg></body></html>
